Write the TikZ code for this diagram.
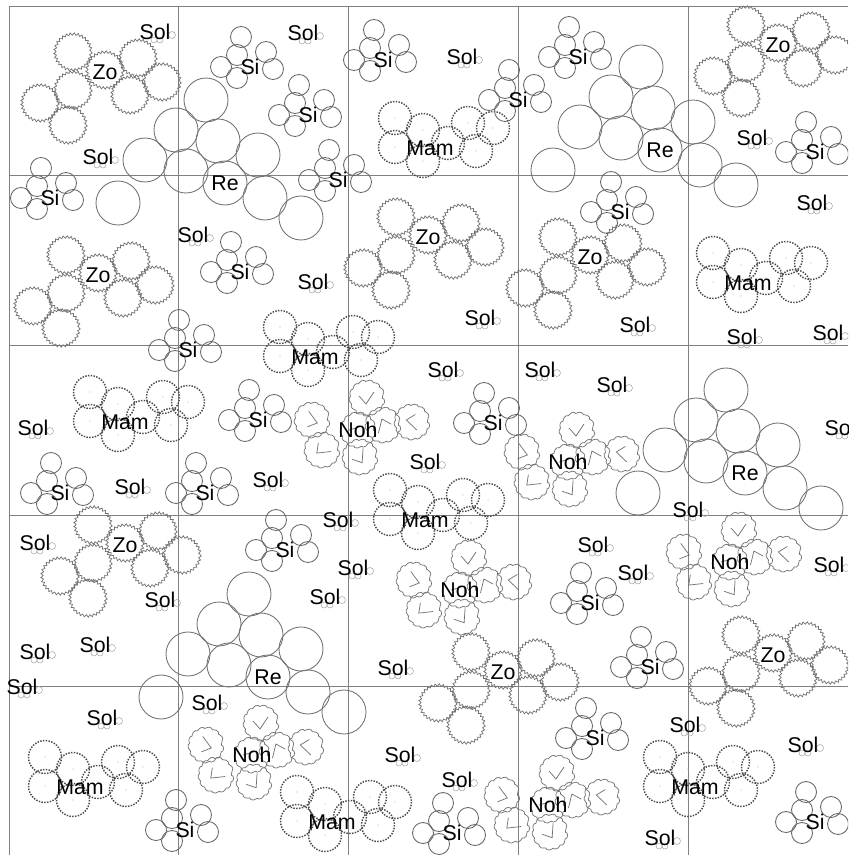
\documentclass[tikz,border=0pt]{standalone}
\usepackage{fontspec}
\setmainfont{Liberation Sans}
\usetikzlibrary{decorations.pathmorphing}
\tikzset{
  lab/.style={font=\fontsize{16}{16}\selectfont, text=black, inner sep=0pt},
  gridline/.style={draw=black!50, line width=0.7pt},
  sicirc/.style={draw=black!60, line width=0.65pt},
  recirc/.style={draw=black!55, line width=0.65pt},
  solc/.style={draw=black!35, line width=0.4pt},
  gear/.style={draw=black!55, line width=0.55pt, decorate, decoration={zigzag, segment length=2.9pt, amplitude=0.9pt}},
  mamcirc/.style={draw=black!70, line width=1.1pt, densely dotted},
  nohshape/.style={draw=black!55, line width=0.55pt, decorate, decoration={bumps, segment length=10.5pt, amplitude=2pt}},
  nohline/.style={draw=black!55, line width=0.55pt},
}
\newcommand{\SolS}[3]{\begin{scope}[shift={(#2,#3)}]
  \draw[solc] (17,3) circle[radius=3.5] (-1,8) circle[radius=3] (5,8) circle[radius=3];
  \node[lab] (#1) at (0,0) {Sol};
\end{scope}}
\newcommand{\SiS}[3]{\begin{scope}[shift={(#2,#3)}]
  \foreach \a/\b in {-9/-30,-13/-12,-29/0,-13/11,16/-15,23/2}
    \draw[sicirc] (\a,\b) circle[radius=10.5];
  \node[lab] (#1) at (0,0) {Si};
\end{scope}}
\newcommand{\ReS}[3]{\begin{scope}[shift={(#2,#3)}]
  \foreach \a/\b in {-19/-83,-49/-53,-7/-42,33/-28,-80/-23,-39/-12,0/0,40/15,76/35,-107/20}
    \draw[recirc] (\a,\b) circle[radius=22];
  \node[lab] (#1) at (0,0) {Re};
\end{scope}}
\newcommand{\ZoS}[3]{\begin{scope}[shift={(#2,#3)}]
  \foreach \a/\b in {-32/-20,0/-2,33/-14,57/10,25/23,-32/18,-65/31,-37/53}
    \draw[gear] (\a,\b) circle[radius=18];
  \node[lab] (#1) at (0,0) {Zo};
\end{scope}}
\newcommand{\MamS}[3]{\begin{scope}[shift={(#2,#3)}]
  \foreach \a/\b in {-35/-30,-7/-18,-35/-1,-7/13,18/-5,38/-25,63/-20,46/3}
    {\draw[mamcirc] (\a,\b) circle[radius=16.5];
     \fill[red!40] (\a,\b) circle[radius=0.6];}
  \node[lab] (#1) at (0,0) {Mam};
\end{scope}}
\newcommand{\NohS}[3]{\begin{scope}[shift={(#2,#3)}]
  \foreach \a/\b/\r in {9/-32/0,-46/-10/70,0/0/140,25/-5/200,54/-8/260,-36/20/310,2/27/30}
    {\draw[nohshape] (\a,\b) circle[radius=15];
     \draw[nohline, shift={(\a,\b)}, rotate=\r] (-8,-2) -- (-1,6) -- (7,-6);}
  \node[lab] (#1) at (0,0) {Noh};
\end{scope}}
\begin{document}
\begin{tikzpicture}[x=0.75pt,y=-0.75pt]
\useasboundingbox (0,0) rectangle (848,855);
\clip (0,0) rectangle (848,855);
% grid
\draw[gridline] (9,855) -- (9,6) -- (848,6);
\foreach \x in {178,348,518,688} \draw[gridline] (\x,6) -- (\x,855);
\foreach \y in {175,345,515,686} \draw[gridline] (9,\y) -- (848,\y);
% large clusters
\ReS{re1}{225}{183}
\ReS{re2}{660}{150}
\ReS{re3}{745}{473}
\ReS{re4}{268}{677}
\ZoS{zo1}{105}{72}
\ZoS{zo2}{778}{45}
\ZoS{zo3}{98}{275}
\ZoS{zo4}{428}{237}
\ZoS{zo5}{590}{257}
\ZoS{zo6}{125}{545}
\ZoS{zo7}{503}{672}
\ZoS{zo8}{773}{655}
\MamS{mam1}{430}{148}
\MamS{mam2}{748}{283}
\MamS{mam3}{315}{357}
\MamS{mam4}{125}{422}
\MamS{mam5}{425}{520}
\MamS{mam6}{80}{787}
\MamS{mam7}{695}{787}
\MamS{mam8}{332}{822}
\NohS{noh1}{358}{430}
\NohS{noh2}{568}{462}
\NohS{noh3}{730}{562}
\NohS{noh4}{460}{590}
\NohS{noh5}{252}{755}
\NohS{noh6}{548}{805}
% Si clusters
\SiS{si1}{250}{67}
\SiS{si2}{308}{115}
\SiS{si3}{383}{60}
\SiS{si4}{518}{100}
\SiS{si5}{578}{57}
\SiS{si6}{815}{152}
\SiS{si7}{338}{180}
\SiS{si8}{50}{198}
\SiS{si9}{240}{272}
\SiS{si10}{620}{212}
\SiS{si11}{188}{350}
\SiS{si12}{258}{420}
\SiS{si13}{493}{423}
\SiS{si14}{60}{493}
\SiS{si15}{205}{493}
\SiS{si16}{285}{550}
\SiS{si17}{590}{603}
\SiS{si18}{650}{667}
\SiS{si19}{595}{738}
\SiS{si20}{185}{830}
\SiS{si21}{452}{833}
\SiS{si22}{815}{822}
% Sol
\SolS{sol1}{155}{32}
\SolS{sol2}{98}{157}
\SolS{sol3}{303}{33}
\SolS{sol4}{462}{57}
\SolS{sol5}{752}{138}
\SolS{sol6}{193}{235}
\SolS{sol7}{313}{282}
\SolS{sol8}{812}{203}
\SolS{sol9}{480}{318}
\SolS{sol10}{635}{325}
\SolS{sol11}{742}{337}
\SolS{sol12}{828}{333}
\SolS{sol13}{443}{370}
\SolS{sol14}{540}{370}
\SolS{sol15}{612}{385}
\SolS{sol16}{33}{428}
\SolS{sol17}{840}{428}
\SolS{sol18}{130}{487}
\SolS{sol19}{268}{480}
\SolS{sol20}{425}{462}
\SolS{sol21}{338}{520}
\SolS{sol22}{688}{510}
\SolS{sol23}{35}{543}
\SolS{sol24}{593}{545}
\SolS{sol25}{829}{565}
\SolS{sol26}{353}{568}
\SolS{sol27}{633}{573}
\SolS{sol28}{160}{600}
\SolS{sol29}{325}{597}
\SolS{sol30}{35}{652}
\SolS{sol31}{95}{645}
\SolS{sol32}{22}{687}
\SolS{sol33}{393}{668}
\SolS{sol34}{102}{718}
\SolS{sol35}{207}{703}
\SolS{sol36}{400}{755}
\SolS{sol37}{685}{725}
\SolS{sol38}{803}{745}
\SolS{sol39}{457}{780}
\SolS{sol40}{660}{838}
\end{tikzpicture}
\end{document}
